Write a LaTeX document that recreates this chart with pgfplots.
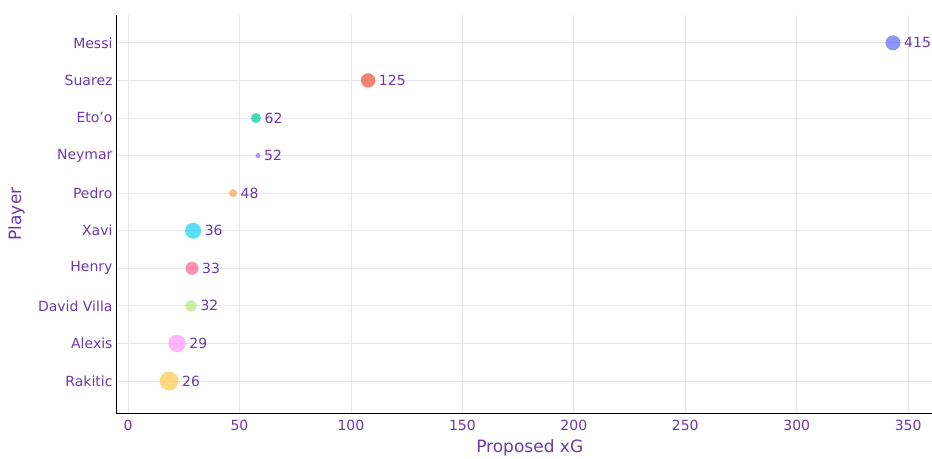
\documentclass[border=0pt]{standalone}
\usepackage{fontspec}
\setmainfont{DejaVu Sans}
\usepackage{pgfplots}
\pgfplotsset{compat=1.18}
\definecolor{txt}{RGB}{108,58,168}
\definecolor{gridc}{RGB}{230,230,236}
\definecolor{cMessi}{HTML}{636EFA}
\definecolor{cSuarez}{HTML}{EF553B}
\definecolor{cEtoo}{HTML}{00CC96}
\definecolor{cNeymar}{HTML}{AB63FA}
\definecolor{cPedro}{HTML}{FFA15A}
\definecolor{cXavi}{HTML}{19D3F3}
\definecolor{cHenry}{HTML}{FF6692}
\definecolor{cVilla}{HTML}{B6E880}
\definecolor{cAlexis}{HTML}{FF97FF}
\definecolor{cRakitic}{HTML}{FECB52}
\pgfplotsset{
  bub/.style 2 args={only marks, mark=*, mark size=#1pt, color=#2,
    mark options={draw opacity=0, fill opacity=0.72},
    nodes near coords, point meta=explicit symbolic,
    every node near coord/.style={anchor=west, inner sep=0pt, xshift={#1pt+3.5pt},
      text=txt, text opacity=1, font=\fontsize{14}{16}\selectfont}},
}
\begin{document}
\begin{tikzpicture}
\useasboundingbox (0,0) rectangle (932pt,458pt);
\begin{axis}[
  at={(116pt,45pt)}, anchor=south west,
  scale only axis, width=816pt, height=398pt,
  xmin=-5.4, xmax=360.7, ymin=-0.85, ymax=9.74,
  axis x line=bottom, axis y line=left,
  axis line style={-, black, line width=1pt},
  xtick={0,50,...,350}, ytick={0,...,9},
  yticklabels={Rakitic,Alexis,David Villa,Henry,Xavi,Pedro,Neymar,Eto’o,Suarez,Messi},
  major tick length=0pt,
  grid=major, major grid style={gridc, line width=0.8pt},
  tick label style={font=\fontsize{14}{16}\selectfont, text=txt},
  xticklabel style={yshift=-3.5pt},
  yticklabel style={xshift=0pt},
  /pgf/number format/assume math mode=true,
  xlabel={Proposed xG}, ylabel={Player},
  label style={font=\fontsize{17}{19}\selectfont, text=txt},
  xlabel style={at={(axis description cs:0.507,-0.088)}, anchor=center},
  ylabel style={at={(axis description cs:-0.122,0.5)}, anchor=center},
  clip=false,
]
\addplot[bub={7.5}{cMessi}] coordinates {(343.2,9) [415]};
\addplot[bub={7.2}{cSuarez}] coordinates {(107.7,8) [125]};
\addplot[bub={5}{cEtoo}] coordinates {(57.4,7) [62]};
\addplot[bub={2.5}{cNeymar}] coordinates {(58.3,6) [52]};
\addplot[bub={4}{cPedro}] coordinates {(47.1,5) [48]};
\addplot[bub={8}{cXavi}] coordinates {(29.2,4) [36]};
\addplot[bub={6.5}{cHenry}] coordinates {(28.7,3) [33]};
\addplot[bub={5.7}{cVilla}] coordinates {(28.3,2) [32]};
\addplot[bub={8.7}{cAlexis}] coordinates {(22.0,1) [29]};
\addplot[bub={9.5}{cRakitic}] coordinates {(18.4,0) [26]};
\end{axis}
\end{tikzpicture}
\end{document}
